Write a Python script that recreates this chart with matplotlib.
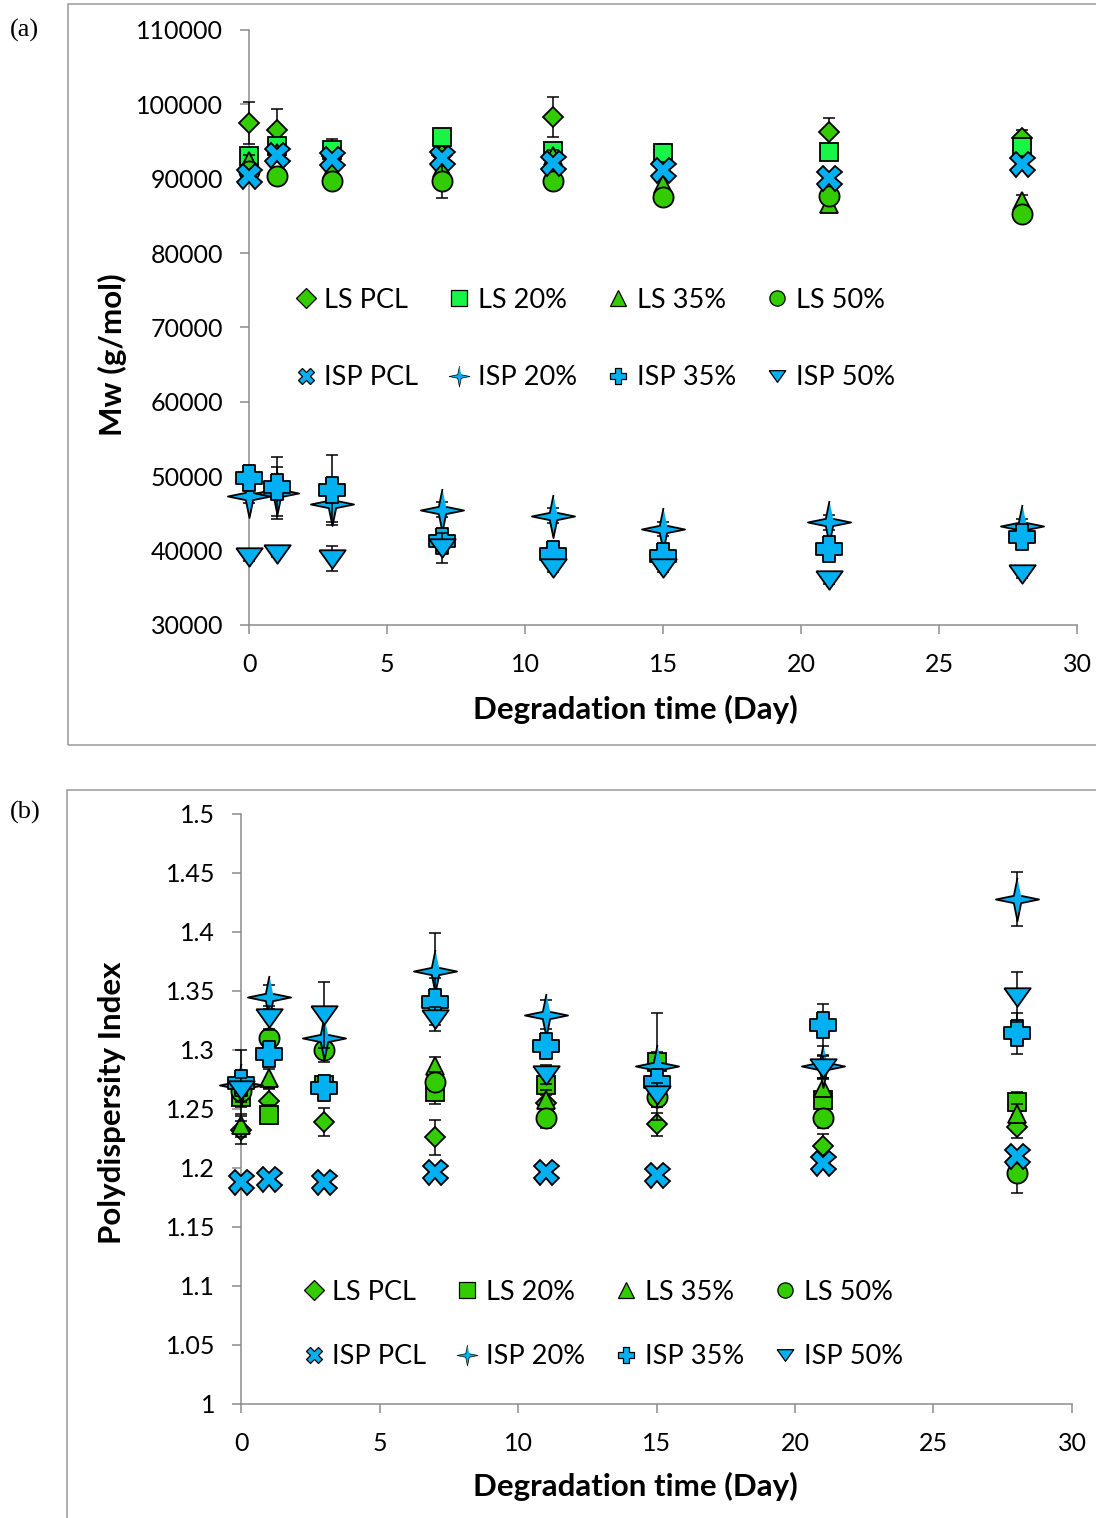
import numpy as np
import matplotlib
matplotlib.use("Agg")
import matplotlib.pyplot as plt
from matplotlib.path import Path
from matplotlib.lines import Line2D
from matplotlib.patches import Rectangle

plt.rcParams['font.family'] = ['Lato', 'DejaVu Sans']

# degradation time (days)
days = [0, 1, 3, 7, 11, 15, 21, 28]
labels = ['LS PCL', 'LS 20%', 'LS 35%', 'LS 50%', 'ISP PCL', 'ISP 20%', 'ISP 35%', 'ISP 50%']

# (a) Mw (g/mol)
ls_pcl_mw = [97500, 96500, 93000, 93200, 98300, 92300, 96300, 95500]
ls_20_mw = [93000, 94400, 93800, 95600, 93700, 93400, 93600, 94300]
ls_35_mw = [92400, 93500, 91300, 91500, 93000, 89300, 86600, 87000]
ls_50_mw = [91000, 90300, 89700, 89700, 89700, 87600, 87700, 85300]
isp_pcl_mw = [90300, 93200, 92700, 92800, 92100, 91200, 90100, 92000]
isp_20_mw = [47400, 47700, 46200, 45500, 44700, 42900, 43800, 43300]
isp_35_mw = [49700, 48600, 48200, 41300, 39500, 39300, 40200, 41800]
isp_50_mw = [39100, 39600, 38900, 40300, 37600, 37600, 36000, 36800]

ls_pcl_mw_err = [2800, 2800, 2400, 1500, 2700, 1000, 1900, 1000]
ls_20_mw_err = [800, 800, 800, 800, 800, 1300, 800, 1000]
ls_35_mw_err = [800, 800, 800, 800, 800, 800, 800, 800]
ls_50_mw_err = [500, 500, 500, 2300, 500, 500, 500, 500]
isp_pcl_mw_err = [300, 300, 300, 300, 300, 300, 300, 300]
isp_20_mw_err = [1000, 3500, 2400, 1000, 1000, 1000, 1000, 1000]
isp_35_mw_err = [700, 4000, 4700, 700, 700, 700, 700, 700]
isp_50_mw_err = [500, 500, 1700, 2000, 500, 500, 500, 500]

# (b) polydispersity index
ls_pcl_pdi = [1.232, 1.257, 1.239, 1.226, 1.255, 1.237, 1.219, 1.235]
ls_20_pdi = [1.260, 1.245, 1.270, 1.264, 1.270, 1.290, 1.258, 1.256]
ls_35_pdi = [1.236, 1.276, 1.270, 1.286, 1.258, 1.280, 1.268, 1.246]
ls_50_pdi = [1.265, 1.310, 1.300, 1.273, 1.242, 1.260, 1.242, 1.196]
isp_pcl_pdi = [1.188, 1.191, 1.188, 1.197, 1.197, 1.194, 1.204, 1.210]
isp_20_pdi = [1.270, 1.345, 1.310, 1.367, 1.330, 1.286, 1.286, 1.428]
isp_35_pdi = [1.272, 1.297, 1.268, 1.341, 1.303, 1.273, 1.321, 1.314]
isp_50_pdi = [1.266, 1.327, 1.330, 1.326, 1.279, 1.262, 1.285, 1.345]

ls_pcl_pdi_err = [0.012, 0.01, 0.012, 0.015, 0.01, 0.01, 0.01, 0.01]
ls_20_pdi_err = [0.008, 0.008, 0.008, 0.01, 0.008, 0.008, 0.008, 0.008]
ls_35_pdi_err = [0.01, 0.008, 0.008, 0.008, 0.008, 0.008, 0.008, 0.008]
ls_50_pdi_err = [0.008, 0.008, 0.008, 0.008, 0.008, 0.008, 0.008, 0.017]
isp_pcl_pdi_err = [0.005, 0.005, 0.005, 0.005, 0.005, 0.005, 0.005, 0.005]
isp_20_pdi_err = [0.03, 0.01, 0.02, 0.032, 0.012, 0.045, 0.01, 0.023]
isp_35_pdi_err = [0.01, 0.01, 0.01, 0.02, 0.008, 0.01, 0.018, 0.017]
isp_50_pdi_err = [0.01, 0.01, 0.028, 0.01, 0.008, 0.01, 0.01, 0.021]

# marker shapes
ang = np.arange(8) * np.pi / 4 + np.pi / 2
rad = np.where(np.arange(8) % 2 == 0, 1.0, 0.24)
star = Path(np.c_[rad * np.cos(ang), rad * np.sin(ang)])
a = 0.42
plus = Path([(-a, 1), (a, 1), (a, a), (1, a), (1, -a), (a, -a), (a, -1), (-a, -1),
             (-a, -a), (-1, -a), (-1, a), (-a, a), (-a, 1)])
tri_down = Path([(-1, 0.7), (1, 0.7), (0, -0.7), (-1, 0.7)])

green = '#33CC00'
green_a = '#17F547'
blue = '#00B0F0'


def styles(sq_color):
    return [('D', green, 10), ('s', sq_color, 13), ('^', green, 13), ('o', green, 14.5),
            ('X', blue, 18), (star, blue, 31), (plus, blue, 19), (tri_down, blue, 19)]


def draw(ax, ys, errs, sq_color):
    for k, (y, e, (m, c, ms)) in enumerate(zip(ys, errs, styles(sq_color))):
        ax.errorbar(days, y, yerr=e, fmt='none', ecolor='black', elinewidth=1.1,
                    capsize=4, capthick=1.1, zorder=3 + 2 * k, clip_on=False)
        ax.plot(days, y, linestyle='none', marker=m, markersize=ms, markerfacecolor=c,
                markeredgecolor='black', markeredgewidth=1.3, zorder=4 + 2 * k, clip_on=False)


def legend(fig, sq_color, anchor, spacing):
    leg_sizes = [10, 11, 11, 11, 11, 15, 11, 12]
    handles = [Line2D([], [], linestyle='none', marker=m, markersize=s, markerfacecolor=c,
                      markeredgecolor='black', markeredgewidth=0.9 if k != 5 else 0.5)
               for k, ((m, c, _), s) in enumerate(zip(styles(sq_color), leg_sizes))]
    # legend fills columns first, so interleave to get two rows of four
    order = [0, 4, 1, 5, 2, 6, 3, 7]
    fig.legend([handles[i] for i in order], [labels[i] for i in order], ncol=4,
               loc='upper left', bbox_to_anchor=anchor,
               frameon=False, fontsize=19.5, handlelength=1.0, handletextpad=0.2,
               columnspacing=1.0, labelspacing=spacing, borderpad=0, borderaxespad=0)


def style_axes(ax):
    for s in ['top', 'right']:
        ax.spines[s].set_visible(False)
    for s in ['left', 'bottom']:
        ax.spines[s].set_color('#8c8c8c')
        ax.spines[s].set_linewidth(1.1)
    ax.tick_params(axis='both', direction='out', length=6.5, width=1.1, color='#8c8c8c',
                   labelsize=18)
    ax.tick_params(axis='y', pad=12)
    ax.tick_params(axis='x', pad=14)
    ax.set_xlim(0, 30)
    ax.set_xticks(range(0, 31, 5))


fig = plt.figure(figsize=(10.96, 15.18), dpi=100)

# (a)
ax1 = fig.add_axes([0.2272, 0.5883, 0.7555, 0.392])
draw(ax1, [ls_pcl_mw, ls_20_mw, ls_35_mw, ls_50_mw, isp_pcl_mw, isp_20_mw, isp_35_mw, isp_50_mw],
     [ls_pcl_mw_err, ls_20_mw_err, ls_35_mw_err, ls_50_mw_err, isp_pcl_mw_err, isp_20_mw_err,
      isp_35_mw_err, isp_50_mw_err], green_a)
style_axes(ax1)
ax1.set_ylim(30000, 110000)
ax1.set_yticks(range(30000, 110001, 10000))
ax1.set_ylabel('Mw (g/mol)', fontsize=22.5, fontweight='bold')
ax1.set_xlabel('Degradation time (Day)', fontsize=22.5, fontweight='bold')
ax1.yaxis.set_label_coords(-0.147, 0.454)
ax1.xaxis.set_label_coords(0.467, -0.118)
legend(fig, green_a, (0.2664, 0.8105), 1.95)

# (b)
ax2 = fig.add_axes([0.2199, 0.0751, 0.7582, 0.3887])
draw(ax2, [ls_pcl_pdi, ls_20_pdi, ls_35_pdi, ls_50_pdi, isp_pcl_pdi, isp_20_pdi, isp_35_pdi, isp_50_pdi],
     [ls_pcl_pdi_err, ls_20_pdi_err, ls_35_pdi_err, ls_50_pdi_err, isp_pcl_pdi_err, isp_20_pdi_err,
      isp_35_pdi_err, isp_50_pdi_err], green)
style_axes(ax2)
ax2.set_ylim(1, 1.5)
yt = np.round(np.arange(1, 1.5001, 0.05), 2)
ax2.set_yticks(yt)
ax2.set_yticklabels(['%g' % v for v in yt])
ax2.set_ylabel('Polydispersity Index', fontsize=22.5, fontweight='bold')
ax2.set_xlabel('Degradation time (Day)', fontsize=22.5, fontweight='bold')
ax2.yaxis.set_label_coords(-0.139, 0.510)
ax2.xaxis.set_label_coords(0.475, -0.115)
legend(fig, green, (0.2737, 0.1568), 1.45)

# outer frames and panel labels
fig.add_artist(Rectangle((0.062, 0.5092), 1.0, 0.4882, transform=fig.transFigure,
                         fill=False, edgecolor='#999999', linewidth=1.1))
fig.add_artist(Rectangle((0.0612, -0.05), 1.0, 0.5296, transform=fig.transFigure,
                         fill=False, edgecolor='#999999', linewidth=1.1))
fig.text(0.009, 0.980, '(a)', fontsize=19, family='Liberation Serif', va='center')
fig.text(0.009, 0.465, '(b)', fontsize=19, family='Liberation Serif', va='center')

fig.savefig('out.png', dpi=100)
